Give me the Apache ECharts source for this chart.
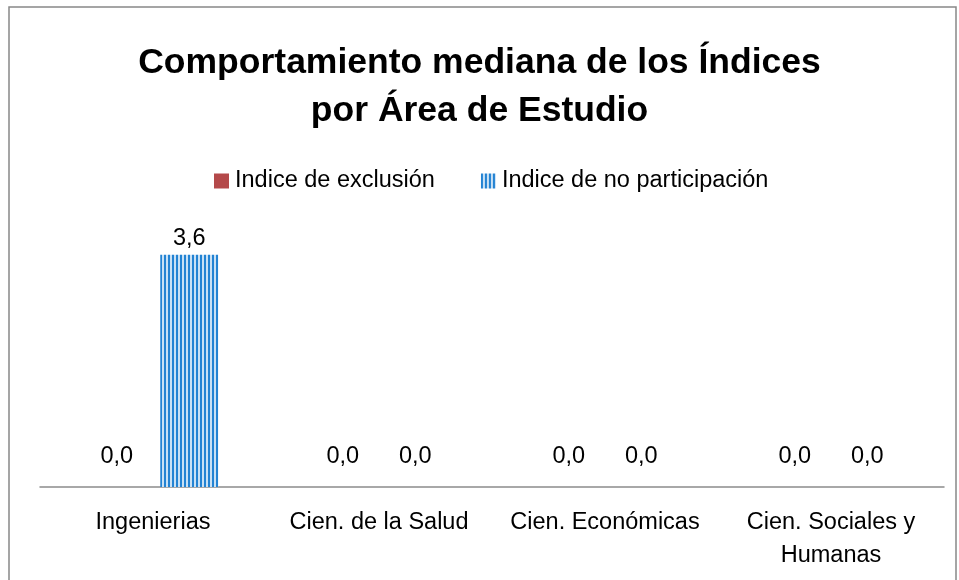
<!DOCTYPE html>
<html>
<head>
<meta charset="utf-8">
<script src="https://cdn.jsdelivr.net/npm/echarts@6/dist/echarts.min.js"></script>
<style>
  html, body { margin: 0; padding: 0; background: #fff; }
  #chart { width: 959px; height: 580px; }
</style>
</head>
<body>
<div id="chart"></div>
<script>
// datos
const categories = ['Ingenierias', 'Cien. de la Salud', 'Cien. Económicas', 'Cien. Sociales y\nHumanas']
const seriesNames = ['Indice de exclusión', 'Indice de no participación']
const exclusion = [0.0, 0.0, 0.0, 0.0]
const noParticipacion = [3.6, 0.0, 0.0, 0.0]

// patron de rayas verticales (azul)
function stripes () {
  const c = document.createElement('canvas')
  c.width = 4
  c.height = 4
  const ctx = c.getContext('2d')
  ctx.fillStyle = '#c9e1f5'
  ctx.fillRect(0, 0, 4, 4)
  ctx.fillStyle = '#2383d3'
  ctx.fillRect(0, 0, 2, 4)
  return c
}
const stripeFill = { image: stripes(), repeat: 'repeat' }

const FONT = 'Liberation Sans'
const FS = 23.5

// etiquetas de 0 un poco mas arriba, como en Excel
function withLabels (arr) {
  return arr.map(v => v === 0 ? { value: v, label: { distance: 18 } } : v)
}

const chart = echarts.init(document.getElementById('chart'))
chart.setOption({
  animation: false,
  title: {
    text: 'Comportamiento mediana de los Índices\npor Área de Estudio',
    left: 'center',
    top: 34,
    textStyle: {
      fontFamily: FONT,
      fontWeight: 'bold',
      fontSize: 35.5,
      lineHeight: 48,
      color: '#000'
    }
  },
  legend: {
    top: 164,
    left: 209,
    itemWidth: 15,
    itemHeight: 15,
    itemGap: 46,
    textStyle: { fontFamily: FONT, fontSize: FS, color: '#000', padding: [0, 0, 0, 1] },
    data: [
      { name: seriesNames[0], icon: 'rect' },
      { name: seriesNames[1], icon: 'rect' }
    ]
  },
  graphic: [{
    type: 'rect',
    shape: { x: 9, y: 7, width: 947, height: 600 },
    style: { fill: 'none', stroke: '#888', lineWidth: 1.5 },
    silent: true
  }],
  grid: { left: 40, right: 15, top: 229, bottom: 93 },
  xAxis: {
    type: 'category',
    data: categories,
    axisLine: { lineStyle: { color: '#8c8c8c', width: 1.5 } },
    axisTick: { show: false },
    axisLabel: {
      interval: 0,
      margin: 19,
      fontFamily: FONT,
      fontSize: FS,
      lineHeight: 33,
      color: '#000'
    }
  },
  yAxis: {
    type: 'value',
    min: 0,
    max: 4,
    show: false,
    splitLine: { show: false }
  },
  series: [
    {
      name: seriesNames[0],
      type: 'bar',
      data: withLabels(exclusion),
      barWidth: 58,
      barGap: '25%',
      itemStyle: { color: '#b4494a' },
      label: {
        show: true,
        position: 'top',
        distance: 4,
        fontFamily: FONT,
        fontSize: FS,
        color: '#000',
        formatter: p => p.value.toFixed(1).replace('.', ',')
      }
    },
    {
      name: seriesNames[1],
      type: 'bar',
      data: withLabels(noParticipacion),
      barWidth: 58,
      itemStyle: { color: stripeFill },
      label: {
        show: true,
        position: 'top',
        distance: 4,
        fontFamily: FONT,
        fontSize: FS,
        color: '#000',
        formatter: p => p.value.toFixed(1).replace('.', ',')
      }
    }
  ]
})
</script>
</body>
</html>
